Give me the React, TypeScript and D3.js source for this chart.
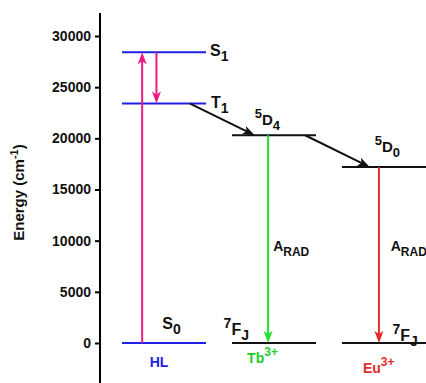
import React, { useEffect, useRef } from "react";
import * as d3 from "d3";

// energy axis
const yTicks = [0, 5000, 10000, 15000, 20000, 25000, 30000];

// columns of the diagram
const columns = ["HL", "Tb", "Eu"];
const columnNames = ["HL", "Tb", "Eu"];
const columnSups = ["", "3+", "3+"];

// energy levels (cm-1)
const levelIds = ["S0", "T1", "S1", "7FJ_Tb", "5D4", "7FJ_Eu", "5D0"];
const levelColumns = ["HL", "HL", "HL", "Tb", "Tb", "Eu", "Eu"];
const levelEnergies = [0, 23400, 28400, 0, 20300, 0, 17200];

// transitions between levels
const transFrom = ["S0", "S1", "T1", "5D4", "5D4", "5D0"];
const transTo = ["S1", "T1", "5D4", "5D0", "7FJ_Tb", "7FJ_Eu"];

const W = 426;
const H = 383;
const FONT = "Liberation Sans, Arial, sans-serif";

const App = () => {
  const svgRef = useRef<SVGSVGElement>(null);

  useEffect(() => {
    const svg = d3.select(svgRef.current);
    svg.selectAll("*").remove();

    const y = d3.scaleLinear().domain([0, 30000]).range([343, 36]);
    const x = d3.scaleBand().domain(columns).range([122, 426]).paddingInner(0.236);
    const bw = x.bandwidth();

    const energy = (id: string) => levelEnergies[levelIds.indexOf(id)];
    const colOf = (id: string) => levelColumns[levelIds.indexOf(id)];
    const at = (id: string, f: number) => (x(colOf(id)) as number) + f * bw;

    // axis
    const axisX = 100;
    const gAxis = svg.append("g").attr("transform", `translate(${axisX},0)`);
    gAxis
      .call(d3.axisLeft(y).tickValues(yTicks).tickFormat(d3.format("d")).tickSize(5).tickPadding(4))
      .call(g => g.select(".domain").remove());
    gAxis.selectAll("line").attr("stroke", "#000").attr("stroke-width", 2);
    gAxis
      .selectAll("text")
      .attr("fill", "#111")
      .style("font-family", FONT)
      .style("font-size", "14px")
      .style("font-weight", "bold");
    gAxis.append("line").attr("x1", 0).attr("x2", 0).attr("y1", 13).attr("y2", H)
      .attr("stroke", "#000").attr("stroke-width", 2);

    svg.append("text")
      .attr("transform", `translate(24,${(133 + 252) / 2}) rotate(-90)`)
      .attr("text-anchor", "middle")
      .style("font-family", FONT).style("font-size", "15px").style("font-weight", "bold")
      .attr("fill", "#111")
      .call(t => {
        t.append("tspan").text("Energy (cm");
        t.append("tspan").attr("dy", -6).style("font-size", "11px").text("-1");
        t.append("tspan").attr("dy", 6).text(")");
      });

    // levels
    levelIds.forEach((id, i) => {
      const c = levelColumns[i];
      svg.append("line")
        .attr("x1", x(c) as number).attr("x2", (x(c) as number) + bw + (c === "Eu" ? 4 : 0))
        .attr("y1", y(levelEnergies[i])).attr("y2", y(levelEnergies[i]))
        .attr("stroke", c === "HL" ? "#1f1fe6" : "#111")
        .attr("stroke-width", 2);
    });

    const head = (x2: number, y2: number, ang: number, color: string, len = 12, half = 4.5) => {
      const ux = Math.cos(ang), uy = Math.sin(ang);
      const bx = x2 - ux * len, by = y2 - uy * len;
      svg.append("path")
        .attr("d", `M${x2},${y2}L${bx - uy * half},${by + ux * half}L${bx + ux * 3},${by + uy * 3}L${bx + uy * half},${by - ux * half}Z`)
        .attr("fill", color);
    };

    const arrow = (x1: number, y1: number, x2: number, y2: number, color: string, sw = 2) => {
      const ang = Math.atan2(y2 - y1, x2 - x1);
      svg.append("line")
        .attr("x1", x1).attr("y1", y1)
        .attr("x2", x2 - Math.cos(ang) * 6).attr("y2", y2 - Math.sin(ang) * 6)
        .attr("stroke", color).attr("stroke-width", sw);
      head(x2, y2, ang, color);
    };

    const pink = "#ee1a86";
    const frac: Record<string, [number, number, string]> = {
      "S0>S1": [0.24, 0.24, pink],
      "S1>T1": [0.41, 0.41, pink],
      "T1>5D4": [0.81, 0.27, "#111"],
      "5D4>5D0": [0.87, 0.33, "#111"],
      "5D4>7FJ_Tb": [0.43, 0.43, "#22e02a"],
      "5D0>7FJ_Eu": [0.44, 0.44, "#ea2a2a"],
    };
    transFrom.forEach((f, i) => {
      const t = transTo[i];
      const [fa, fb, col] = frac[`${f}>${t}`];
      arrow(at(f, fa), y(energy(f)), at(t, fb), y(energy(t)), col);
    });

    // level labels
    const label = (
      px: number, py: number, parts: [string, string][], color = "#111", size = 15
    ) => {
      const t = svg.append("text").attr("x", px).attr("y", py)
        .style("font-family", FONT).style("font-weight", "bold")
        .style("font-size", `${size}px`).attr("fill", color);
      let cur = 0;
      parts.forEach(([kind, s]) => {
        const target = kind === "sup" ? -7 : kind === "sub" ? 5 : 0;
        t.append("tspan").attr("dy", target - cur)
          .style("font-size", kind === "n" ? `${size}px` : `${Math.round(size * 0.87)}px`)
          .text(s);
        cur = target;
      });
    };

    const rEdge = (id: string) => (x(colOf(id)) as number) + bw;
    label(rEdge("S1") + 4, y(energy("S1")) + 4, [["n", "S"], ["sub", "1"]], "#111", 16);
    label(rEdge("T1") + 5, y(energy("T1")) + 4, [["n", "T"], ["sub", "1"]], "#111", 16);
    label(at("S0", 0.48), y(0) - 14, [["n", "S"], ["sub", "0"]], "#111", 16);
    label(at("5D4", 0.27), y(energy("5D4")) - 10, [["sup", "5"], ["n", "D"], ["sub", "4"]]);
    label(at("5D0", 0.39), y(energy("5D0")) - 15, [["sup", "5"], ["n", "D"], ["sub", "0"]]);
    label(at("7FJ_Tb", -0.1), y(0) - 8, [["sup", "7"], ["n", "F"], ["sub", "J"]], "#111", 16);
    label(at("7FJ_Eu", 0.6), y(0) - 2, [["sup", "7"], ["n", "F"], ["sub", "J"]], "#111", 16);
    label(at("5D4", 0.49), y(9000), [["n", "A"], ["sub", "RAD"]], "#111", 14);
    label(at("5D0", 0.58), y(9000), [["n", "A"], ["sub", "RAD"]], "#111", 14);

    // column labels
    const colColors = ["#1f1fe6", "#22cc2a", "#e62a2a"];
    const colDy = [24, 20, 30];
    const colFx = [0.33, 0.18, 0.25];
    columns.forEach((c, i) => {
      const parts: [string, string][] = [["n", columnNames[i]]];
      if (columnSups[i]) parts.push(["sup", columnSups[i]]);
      label((x(c) as number) + colFx[i] * bw, y(0) + colDy[i], parts, colColors[i], 14);
    });
  }, []);

  return (
    <svg ref={svgRef} width={W} height={H}
      style={{ position: "absolute", left: 0, top: 0, background: "#fff" }} />
  );
};

export default App;
